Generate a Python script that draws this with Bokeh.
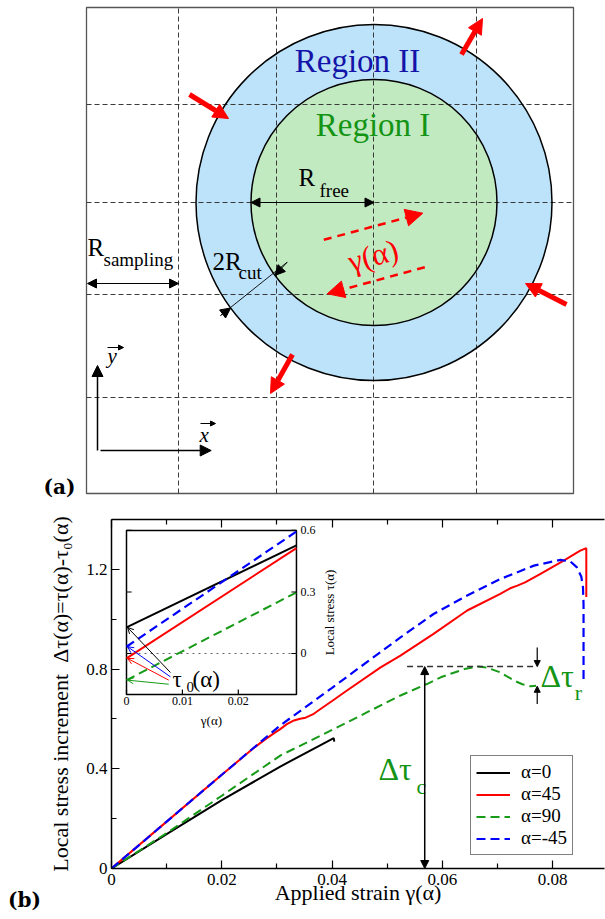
import math
from bokeh.plotting import figure
from bokeh.models import (Range1d, Arrow, NormalHead, OpenHead, LinearAxis, Div,
                          FixedTicker, Legend, LegendItem)
from bokeh.embed import file_html
from bokeh.resources import INLINE
from bokeh.core.properties import value

SERIF = "Liberation Serif"
BOLD_SERIF = "DejaVu Serif"

# ====================== Panel (b) data ======================
strain_a0 = [0.0, 0.010, 0.020, 0.0306, 0.0403, 0.0404]
dtau_a0 = [0.0, 0.138, 0.274, 0.409, 0.523, 0.509]

strain_a45 = [0.0, 0.010, 0.020, 0.0260, 0.0280, 0.0295, 0.0306, 0.0318, 0.0331, 0.0342,
              0.0352, 0.0365, 0.0379, 0.0400, 0.0427, 0.0488, 0.0524, 0.0566, 0.0584,
              0.0645, 0.0705, 0.0723, 0.0736, 0.0750, 0.0778, 0.0820, 0.0850, 0.0861, 0.0861]
dtau_a45 = [0.0, 0.188, 0.376, 0.487, 0.520, 0.543, 0.559, 0.579, 0.594, 0.601,
            0.605, 0.618, 0.640, 0.672, 0.714, 0.807, 0.854, 0.915, 0.941,
            1.035, 1.102, 1.124, 1.135, 1.148, 1.182, 1.235, 1.275, 1.285, 1.089]

strain_a90 = [0.0, 0.010, 0.020, 0.0306, 0.0400, 0.0524, 0.0572, 0.0597, 0.0615, 0.0640,
              0.0663, 0.0680, 0.0705, 0.0730, 0.0745, 0.0760, 0.0770]
dtau_a90 = [0.0, 0.142, 0.292, 0.453, 0.556, 0.694, 0.740, 0.767, 0.781, 0.800,
            0.810, 0.806, 0.787, 0.754, 0.739, 0.731, 0.733]

strain_am45 = [0.0, 0.010, 0.020, 0.0306, 0.0400, 0.0524, 0.0584, 0.0645, 0.0705, 0.0766,
               0.0814, 0.0832, 0.0844, 0.0852, 0.0855, 0.0856, 0.0856]
dtau_am45 = [0.0, 0.188, 0.376, 0.574, 0.725, 0.927, 1.021, 1.095, 1.161, 1.215,
             1.238, 1.232, 1.208, 1.170, 1.128, 1.060, 0.740]

legend_labels = ["α=0", "α=45", "α=90", "α=-45"]

x_ticks = [0.0, 0.02, 0.04, 0.06, 0.08]
x_tick_labels = ["0", "0.02", "0.04", "0.06", "0.08"]
x_minor = [0.01, 0.03, 0.05, 0.07]
y_ticks = [0.0, 0.4, 0.8, 1.2]
y_tick_labels = ["0", "0.4", "0.8", "1.2"]
y_minor = [0.2, 0.6, 1.0]

# inset: local stress tau(alpha) vs strain (straight segments)
inset_strain = [0.0, 0.0304]
tau_a0 = [0.127, 0.527]
tau_a45 = [-0.024, 0.514]
tau_a90 = [-0.130, 0.298]
tau_am45 = [0.033, 0.595]
inset_x_ticks = [0.0, 0.01, 0.02]
inset_x_labels = ["0", "0.01", "0.02"]
inset_y_ticks = [0.0, 0.3, 0.6]
inset_y_labels = ["0", "0.3", "0.6"]

# colours
C_BLACK = "black"
C_RED = "#ff0000"
C_GREEN = "#179a17"
C_BLUE = "#0000ff"
C_TEXT_GREEN = "#149414"
C_REGION2 = "#1414a8"
C_RING = "#bce3fa"
C_DISC = "#c2eac1"

MID = 0.35  # baseline -> vertical-middle offset, in em


def nh(size, color="black"):
    return NormalHead(size=size, fill_color=color, line_color=color, line_width=1)


def arrow(p, x0, y0, x1, y1, color="black", lw=1.0, end=None, start=None, dash="solid"):
    p.add_layout(Arrow(x_start=x0, y_start=y0, x_end=x1, y_end=y1, line_color=color,
                       line_width=lw, line_dash=dash, end=end, start=start))


def txt(p, x, y_base, s, fs, color="black", align="left", style="normal", font=SERIF,
        angle=0.0, unit=1.0):
    """place text by its baseline (unit = data units per pixel in y)"""
    p.text(x=[x], y=[y_base + MID * fs * unit], text=[s], text_font=value(font),
           text_font_size=f"{fs}px", text_color=color, text_align=align,
           text_baseline="middle", text_font_style=style, angle=angle)


# ====================== Panel (a) : schematic ======================
pA = figure(width=605, height=500, x_range=Range1d(-86, 519), y_range=Range1d(-7, 493),
            x_axis_type=None, y_axis_type=None, output_backend="svg",
            toolbar_location=None, min_border=0, outline_line_color=None)
pA.background_fill_color = "white"

BOX_W, BOX_H = 487, 486
grid_x = [92, 190, 287, 390]
grid_y = [96, 199, 291, 389]
cx, cy = 287.5, 291
R_OUT, R_IN = 178, 123

pA.quad(left=[0], right=[BOX_W], bottom=[0], top=[BOX_H], fill_color="white",
        line_color="#555555", line_width=1.3)
pA.circle(x=[cx], y=[cy], radius=R_OUT, fill_color=C_RING, line_color=None)
pA.circle(x=[cx], y=[cy], radius=R_IN, fill_color=C_DISC, line_color=None)
pA.segment(x0=grid_x, y0=[0] * len(grid_x), x1=grid_x, y1=[BOX_H] * len(grid_x),
           line_color="#3a3a3a", line_width=1, line_dash="5 3")
pA.segment(x0=[0] * len(grid_y), y0=grid_y, x1=[BOX_W] * len(grid_y), y1=grid_y,
           line_color="#3a3a3a", line_width=1, line_dash="5 3")
pA.circle(x=[cx, cx], y=[cy, cy], radius=[R_OUT, R_IN], fill_color=None,
          line_color="black", line_width=1.5)

# red boundary-displacement arrows
thick_tail = [(375, 439), (103, 399), (480, 189), (206, 139)]
thick_tip = [(396, 475), (142, 375), (439, 210), (184, 100)]
for (x0, y0), (x1, y1) in zip(thick_tail, thick_tip):
    arrow(pA, x0, y0, x1, y1, color=C_RED, lw=5, end=nh(15, C_RED))

# dashed shear arrows (gamma)
arrow(pA, 237.3, 253.7, 336.3, 280.3, color=C_RED, lw=2.5, dash="8 6", end=nh(17, C_RED))
arrow(pA, 338.3, 226.3, 240.7, 199.7, color=C_RED, lw=2.5, dash="8 6", end=nh(17, C_RED))
pA.text(x=[286.5], y=[238], text=["γ(α)"], text_font=value(SERIF), text_font_size="31px",
        text_color=C_RED, text_align="center", text_baseline="middle", angle=0.26)

# R_free
arrow(pA, cx - R_IN, cy, cx, cy, lw=1.2, end=nh(9), start=nh(9))
txt(pA, 212, 307, "R", 25)
txt(pA, 233, 296, "free", 19)

# R_sampling
arrow(pA, 1, 210, grid_x[0], 210, lw=1.2, end=nh(9), start=nh(9))
txt(pA, 1, 237, "R", 25)
txt(pA, 17, 227, "sampling", 19)

# 2R_cut
cut_a = (134, 178)
cut_b = (200.7, 231.3)
ux, uy = cut_a[0] - cx, cut_a[1] - cy
un = math.hypot(ux, uy)
ux, uy = ux / un, uy / un
pA.segment(x0=[cut_a[0]], y0=[cut_a[1]], x1=[cut_b[0]], y1=[cut_b[1]], line_color="black", line_width=0.9)
arrow(pA, cut_a[0], cut_a[1], cx + R_OUT * ux, cy + R_OUT * uy, lw=0.9, end=nh(10))
arrow(pA, cut_b[0], cut_b[1], cx + R_IN * ux, cy + R_IN * uy, lw=0.9, end=nh(10))
txt(pA, 126, 223, "2R", 25)
txt(pA, 152, 214, "cut", 19)

# region labels
txt(pA, 271, 421, "Region II", 33, color=C_REGION2, align="center")
txt(pA, 286.5, 357, "Region I", 33, color=C_TEXT_GREEN, align="center")

# coordinate axes
arrow(pA, 11, 43, 11, 128, lw=1.5, end=nh(11))
arrow(pA, 14, 43, 124.7, 43, lw=1.5, end=nh(11))
txt(pA, 21, 130, "y", 21, style="italic")
txt(pA, 113, 51, "x", 21, style="italic")
arrow(pA, 21, 146, 37, 146, lw=1, end=nh(5))
arrow(pA, 114, 70, 129, 70, lw=1, end=nh(5))

txt(pA, -43, 0, "(a)", 20, style="bold", font=BOLD_SERIF)

# ====================== Panel (b) : stress-strain ======================
pB = figure(width=605, height=419, x_range=Range1d(0, 0.0894), y_range=Range1d(0, 1.4),
            output_backend="svg", toolbar_location=None,
            min_border_left=111, min_border_right=1, min_border_top=19, min_border_bottom=51)
pB.xgrid.visible = False
pB.ygrid.visible = False
pB.outline_line_color = None
UY = 1.4 / 349.0  # data units per pixel in y


def style_axis(ax):
    ax.axis_line_width = 1.5
    ax.axis_line_color = "black"
    ax.major_tick_in = 8
    ax.major_tick_out = 0
    ax.minor_tick_in = 5
    ax.minor_tick_out = 0
    ax.major_tick_line_width = 1.2
    ax.minor_tick_line_width = 1.2
    ax.major_label_text_font = SERIF
    ax.major_label_text_font_size = "17px"
    ax.major_label_text_color = "black"
    ax.axis_label_text_font = SERIF
    ax.axis_label_text_font_size = "22px"
    ax.axis_label_text_font_style = "normal"
    ax.axis_label_text_color = "black"


xax = pB.xaxis[0]
xax.ticker = FixedTicker(ticks=x_ticks, minor_ticks=x_minor)
xax.major_label_overrides = {t: l for t, l in zip(x_ticks, x_tick_labels)}
style_axis(xax)
xax.major_label_standoff = 5
xax.axis_label = "Applied strain γ(α)"
xax.axis_label_standoff = -8

yax = pB.yaxis[0]
yax.ticker = FixedTicker(ticks=y_ticks, minor_ticks=y_minor)
yax.major_label_overrides = {t: l for t, l in zip(y_ticks, y_tick_labels)}
style_axis(yax)
yax.major_label_standoff = 4
yax.axis_label = "Local stress increment\u00a0\u00a0Δτ(α)=τ(α)-τ₀(α)"
yax.axis_label_standoff = 10

top_ax = LinearAxis(ticker=FixedTicker(ticks=x_ticks, minor_ticks=x_minor))
style_axis(top_ax)
top_ax.major_label_text_font_size = "8px"
top_ax.major_label_standoff = 0
top_ax.major_label_overrides = {t: "" for t in x_ticks}
pB.add_layout(top_ax, "above")

r0 = pB.line(strain_a0, dtau_a0, line_color=C_BLACK, line_width=2)
r45 = pB.line(strain_a45, dtau_a45, line_color=C_RED, line_width=2)
r90 = pB.line(strain_a90, dtau_a90, line_color=C_GREEN, line_width=2, line_dash="9 5")
rm45 = pB.line(strain_am45, dtau_am45, line_color=C_BLUE, line_width=2.2, line_dash="9 5")

# Delta tau_c and Delta tau_r annotations
peak = max(dtau_a90)
ipk = dtau_a90.index(peak)
dip = min(dtau_a90[ipk:])
x_c, x_r = 0.0568, 0.0772
pB.line([0.0536, x_r], [peak, peak], line_color="#333333", line_width=1.5, line_dash="6 4")
arrow(pB, x_c, 0.0, x_c, peak, lw=1.5, end=nh(8), start=nh(8))
arrow(pB, x_r, peak + 0.077, x_r, peak, lw=1.2, end=nh(6))
arrow(pB, x_r, dip - 0.071, x_r, dip, lw=1.2, end=nh(6))
txt(pB, 0.0484, 0.353, "Δτ", 32, color=C_TEXT_GREEN, unit=UY)
txt(pB, 0.0553, 0.300, "c", 22, color=C_TEXT_GREEN, unit=UY)
txt(pB, 0.0778, 0.726, "Δτ", 32, color=C_TEXT_GREEN, unit=UY)
txt(pB, 0.0840, 0.674, "r", 22, color=C_TEXT_GREEN, unit=UY)

legend = Legend(items=[LegendItem(label=legend_labels[0], renderers=[r0]),
                       LegendItem(label=legend_labels[1], renderers=[r45]),
                       LegendItem(label=legend_labels[2], renderers=[r90]),
                       LegendItem(label=legend_labels[3], renderers=[rm45])],
                location=(359, 13), border_line_color="black", border_line_width=1.2,
                background_fill_color="white", background_fill_alpha=1.0,
                padding=5, spacing=-1, margin=0, glyph_width=34, glyph_height=19,
                label_height=19, label_standoff=11, label_text_font=SERIF,
                label_text_font_size="19px", label_text_color="black")
pB.add_layout(legend)

# ---------------- inset ----------------
INSET_X = (0.0, 0.0304)
INSET_Y = (-0.2, 0.6)
INSET_BOX_X = (0.00272, 0.03354)
INSET_BOX_Y = (0.698, 1.356)
inset = pB.subplot(x_source=Range1d(*INSET_X), y_source=Range1d(*INSET_Y),
                   x_target=Range1d(*INSET_BOX_X), y_target=Range1d(*INSET_BOX_Y))
UYI = (INSET_Y[1] - INSET_Y[0]) / 164.0  # inset units per pixel in y


def inset_to_main(xv, yv):
    fx = (xv - INSET_X[0]) / (INSET_X[1] - INSET_X[0])
    fy = (yv - INSET_Y[0]) / (INSET_Y[1] - INSET_Y[0])
    return (INSET_BOX_X[0] + fx * (INSET_BOX_X[1] - INSET_BOX_X[0]),
            INSET_BOX_Y[0] + fy * (INSET_BOX_Y[1] - INSET_BOX_Y[0]))


inset.quad(left=[INSET_X[0]], right=[INSET_X[1]], bottom=[INSET_Y[0]], top=[INSET_Y[1]],
           fill_color="white", line_color="black", line_width=1.5)
inset.line([INSET_X[0], INSET_X[1]], [0, 0], line_color="#666666", line_width=1, line_dash="dotted")
inset.line(inset_strain, tau_a0, line_color=C_BLACK, line_width=2)
inset.line(inset_strain, tau_a45, line_color=C_RED, line_width=2)
inset.line(inset_strain, tau_a90, line_color=C_GREEN, line_width=2, line_dash="9 5")
inset.line(inset_strain, tau_am45, line_color=C_BLUE, line_width=2.2, line_dash="9 5")

tdx = 0.03 * (INSET_X[1] - INSET_X[0])
tdy = 0.03 * (INSET_Y[1] - INSET_Y[0])
nx, ny = len(inset_x_ticks), len(inset_y_ticks)
inset.segment(x0=inset_x_ticks, y0=[INSET_Y[0]] * nx, x1=inset_x_ticks, y1=[INSET_Y[0] + tdy] * nx,
              line_color="black", line_width=1.2)
inset.segment(x0=[INSET_X[0]] * ny, y0=inset_y_ticks, x1=[INSET_X[0] + tdx] * ny, y1=inset_y_ticks,
              line_color="black", line_width=1.2)
inset.segment(x0=[INSET_X[1]] * ny, y0=inset_y_ticks, x1=[INSET_X[1] - tdx] * ny, y1=inset_y_ticks,
              line_color="black", line_width=1.2)
inset.text(x=inset_x_ticks, y=[INSET_Y[0]] * nx, text=inset_x_labels, y_offset=3,
           text_baseline="top", text_align="center", text_font=value(SERIF),
           text_font_size="12px", text_color="black")
inset.text(x=[INSET_X[1]] * ny, y=inset_y_ticks, text=inset_y_labels, x_offset=4,
           text_baseline="middle", text_align="left", text_font=value(SERIF),
           text_font_size="12px", text_color="black")
inset.text(x=[0.5 * (INSET_X[0] + INSET_X[1])], y=[INSET_Y[0]], text=["γ(α)"], y_offset=26,
           text_baseline="middle", text_align="center", text_font=value(SERIF),
           text_font_size="13px", text_color="black")
inset.text(x=[INSET_X[1]], y=[0.5 * (INSET_Y[0] + INSET_Y[1])], text=["Local stress τ(α)"],
           x_offset=33, angle=math.pi / 2, text_baseline="middle", text_align="center",
           text_font=value(SERIF), text_font_size="13px", text_color="black")

# tau_0 pointers
tau0_starts = [(0.00787, -0.093), (0.00787, -0.114), (0.00756, -0.130), (0.00756, -0.150)]
for (sx, sy), ser, col in zip(tau0_starts, [tau_a0, tau_am45, tau_a45, tau_a90],
                              [C_BLACK, C_BLUE, C_RED, C_GREEN]):
    x0, y0 = inset_to_main(sx, sy)
    x1, y1 = inset_to_main(inset_strain[0] + 0.0002, ser[0])
    pB.add_layout(Arrow(x_start=x0, y_start=y0, x_end=x1, y_end=y1, line_color=col,
                        line_width=1, end=OpenHead(size=6, line_color=col, line_width=1)))
txt(inset, 0.00823, -0.168, "τ", 23, unit=UYI)
txt(inset, 0.01073, -0.190, "0", 15, unit=UYI)
txt(inset, 0.0118, -0.168, "(α)", 23, unit=UYI)

label_b = Div(text="(b)", styles={"position": "absolute", "left": "8px", "top": "890px",
                                  "font-family": "'DejaVu Serif'", "font-weight": "bold",
                                  "font-size": "20px", "line-height": "1", "margin": "0",
                                  "padding": "0", "color": "black"})

open("out.html", "w").write(file_html([pA, pB, label_b], INLINE))
